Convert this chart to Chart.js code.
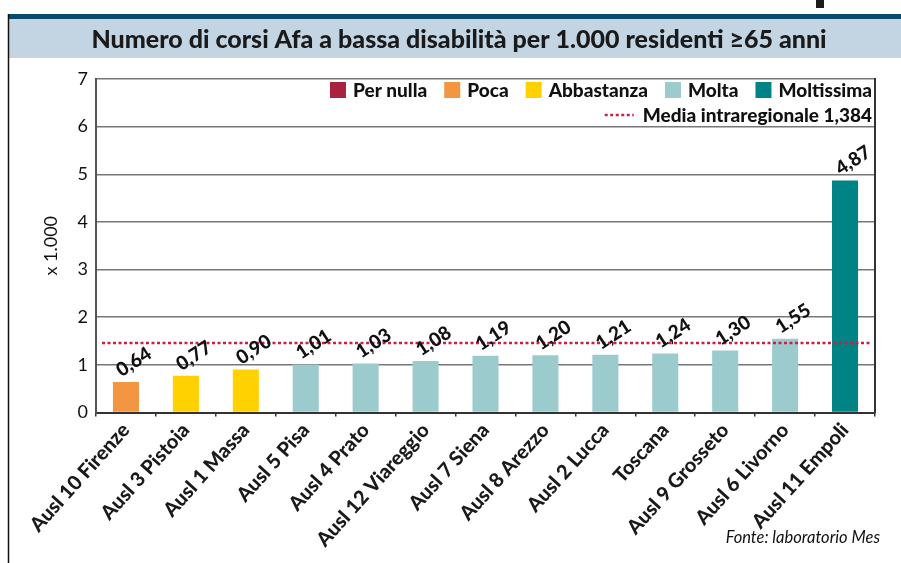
<!DOCTYPE html>
<html><head><meta charset="utf-8">
<script src="https://cdn.jsdelivr.net/npm/chart.js@4.4.0/dist/chart.umd.min.js"></script>
<style>html,body{margin:0;padding:0;background:#fff;} #wrap{width:901px;height:563px;position:relative;}</style>
</head><body><div id="wrap"><canvas id="c" width="901" height="563"></canvas></div>
<script>
const titleText = 'Numero di corsi Afa a bassa disabilità per 1.000 residenti ≥65 anni';
const categories = ['Ausl 10 Firenze','Ausl 3 Pistoia','Ausl 1 Massa','Ausl 5 Pisa','Ausl 4 Prato','Ausl 12 Viareggio','Ausl 7 Siena','Ausl 8 Arezzo','Ausl 2 Lucca','Toscana','Ausl 9 Grosseto','Ausl 6 Livorno','Ausl 11 Empoli'];
const values = [0.64,0.77,0.90,1.01,1.03,1.08,1.19,1.20,1.21,1.24,1.30,1.55,4.87];
const classOf = ['Poca','Abbastanza','Abbastanza','Molta','Molta','Molta','Molta','Molta','Molta','Molta','Molta','Molta','Moltissima'];
const classNames = ['Per nulla','Poca','Abbastanza','Molta','Moltissima'];
const classColors = ['#a8223f','#f29642','#ffd100','#9ccbcd','#008385'];
const mediaLabel = 'Media intraregionale 1,384';
const mediaLineLevel = 1.46;
const mediaLineSpan = [-0.4, 12.45];
const yTicks = [0,1,2,3,4,5,6,7];
const yTitle = 'x 1.000';
const sourceText = 'Fonte: laboratorio Mes';

Chart.defaults.font.family = 'Lato';
const FONT = 'Lato';
const HEAVY = '900';
const mediaColor = '#cc1f45';

const barSets = classNames.map((name, k) => ({
  type: 'bar',
  label: name,
  data: values.map((v, i) => classOf[i] === name ? v : null),
  backgroundColor: classColors[k],
  borderWidth: 0,
  grouped: false,
  barPercentage: 0.435,
  categoryPercentage: 1,
  xAxisID: 'x', yAxisID: 'y',
  order: 2
}));
const lineSet = {
  type: 'line',
  label: mediaLabel,
  data: mediaLineSpan.map(x => ({ x: x, y: mediaLineLevel })),
  borderColor: mediaColor,
  borderWidth: 2.6,
  borderDash: [3, 2.5],
  pointRadius: 0,
  fill: false,
  xAxisID: 'x2', yAxisID: 'y',
  order: 1
};

const bgPlugin = {
  id: 'bg',
  beforeDraw(chart) {
    const ctx = chart.ctx;
    ctx.save();
    ctx.fillStyle = '#fff';
    ctx.fillRect(0, 0, chart.width, chart.height);
    ctx.fillStyle = '#0a4a6c';
    ctx.fillRect(8, 14, chart.width - 8, 5);
    ctx.fillStyle = '#c3d5e3';
    ctx.fillRect(8, 19, chart.width - 8, 39);
    ctx.fillStyle = '#1b1b1b';
    ctx.fillRect(816, 0, 8, 8);
    ctx.strokeStyle = '#111';
    ctx.lineWidth = 1.5;
    ctx.beginPath();
    ctx.moveTo(8.5, 14);
    ctx.lineTo(8.5, chart.height);
    ctx.stroke();
    ctx.restore();
  }
};

const labelPlugin = {
  id: 'barLabels',
  afterDatasetsDraw(chart) {
    const ctx = chart.ctx;
    ctx.save();
    ctx.font = HEAVY + ' 19px ' + FONT;
    ctx.fillStyle = '#111';
    ctx.textAlign = 'center';
    ctx.textBaseline = 'middle';
    chart.data.datasets.forEach((ds, di) => {
      if (ds.type !== 'bar') return;
      const meta = chart.getDatasetMeta(di);
      meta.data.forEach((el, i) => {
        const v = ds.data[i];
        if (v === null || v === undefined) return;
        ctx.save();
        ctx.translate(el.x + 8, el.y - 20);
        ctx.rotate(-33 * Math.PI / 180);
        ctx.fillText(v.toFixed(2).replace('.', ','), 0, 0);
        ctx.restore();
      });
    });
    ctx.restore();
  }
};

const legendPlugin = {
  id: 'customLegend',
  afterDraw(chart) {
    const ctx = chart.ctx;
    const area = chart.chartArea;
    ctx.save();
    ctx.font = HEAVY + ' 19px ' + FONT;
    ctx.textBaseline = 'middle';
    ctx.textAlign = 'left';
    const box = 16, gapText = 7, gapItem = 17;
    const bars = chart.data.datasets.filter(d => d.type === 'bar');
    let total = 0;
    const widths = bars.map(d => ctx.measureText(d.label).width);
    widths.forEach(w => total += box + gapText + w);
    total += gapItem * (bars.length - 1);
    const right = area.right - 3;
    let x = right - total;
    const y1 = area.top + 11;
    bars.forEach((d, k) => {
      ctx.fillStyle = d.backgroundColor;
      ctx.fillRect(x, y1 - box / 2, box, box);
      ctx.fillStyle = '#111';
      ctx.fillText(d.label, x + box + gapText, y1 + 1);
      x += box + gapText + widths[k] + gapItem;
    });
    const line = chart.data.datasets.find(d => d.type === 'line');
    const y2 = area.top + 36;
    const lw = ctx.measureText(line.label).width;
    const tx = right - lw;
    ctx.fillStyle = '#111';
    ctx.fillText(line.label, tx, y2 + 1);
    ctx.strokeStyle = line.borderColor;
    ctx.lineWidth = line.borderWidth;
    ctx.setLineDash(line.borderDash);
    ctx.beginPath();
    ctx.moveTo(tx - 38, y2);
    ctx.lineTo(tx - 9, y2);
    ctx.stroke();
    ctx.setLineDash([]);
    ctx.font = 'italic 16.5px ' + FONT;
    ctx.textAlign = 'right';
    ctx.fillStyle = '#111';
    ctx.fillText(sourceText, 880, 538);
    ctx.restore();
  }
};

new Chart(document.getElementById('c'), {
  type: 'bar',
  data: { labels: categories, datasets: [...barSets, lineSet] },
  options: {
    responsive: false,
    animation: false,
    layout: { padding: { left: 17, right: 0, top: 0, bottom: 0 } },
    plugins: {
      legend: { display: false },
      tooltip: { enabled: false },
      title: {
        display: true,
        text: titleText,
        color: '#1a1a1a',
        font: { family: FONT, size: 25, weight: HEAVY },
        padding: { top: 25, bottom: 24 }
      }
    },
    scales: {
      x: {
        type: 'category',
        offset: true,
        grid: { display: true, drawOnChartArea: false, drawTicks: true, tickLength: 4, color: '#333', lineWidth: 1.5, offset: true },
        border: { display: true, color: '#333', width: 2 },
        ticks: { font: { family: FONT, size: 20, weight: HEAVY }, color: '#1a1a1a', minRotation: 48, maxRotation: 48, autoSkip: false, padding: 2 },
        afterFit(s) { s.height = 150.5; }
      },
      x2: {
        type: 'linear', position: 'bottom', min: -0.5, max: 12.5, offset: false,
        display: true,
        grid: { display: false, drawTicks: false },
        border: { display: false },
        ticks: { display: false },
        afterFit(s) { s.height = 0; }
      },
      y: {
        type: 'linear',
        position: 'left',
        min: 0, max: 7,
        afterBuildTicks(s) { s.ticks = yTicks.map(v => ({ value: v })); },
        grid: { color: '#777', lineWidth: 1.5, drawTicks: false },
        border: { display: true, color: '#555', width: 2 },
        ticks: { font: { family: FONT, size: 18 }, color: '#111', padding: 8 },
        title: { display: true, text: yTitle, color: '#111', font: { family: FONT, size: 18 }, padding: { top: 23, bottom: 0 } },
        afterFit(s) { s.width = 79; }
      },
      y2: {
        type: 'linear',
        position: 'right',
        min: 0, max: 7,
        grid: { display: false, drawTicks: false },
        ticks: { display: false },
        border: { display: true, color: '#333', width: 2 },
        afterFit(s) { s.width = 26; }
      }
    }
  },
  plugins: [bgPlugin, labelPlugin, legendPlugin]
});
</script>
</body></html>
